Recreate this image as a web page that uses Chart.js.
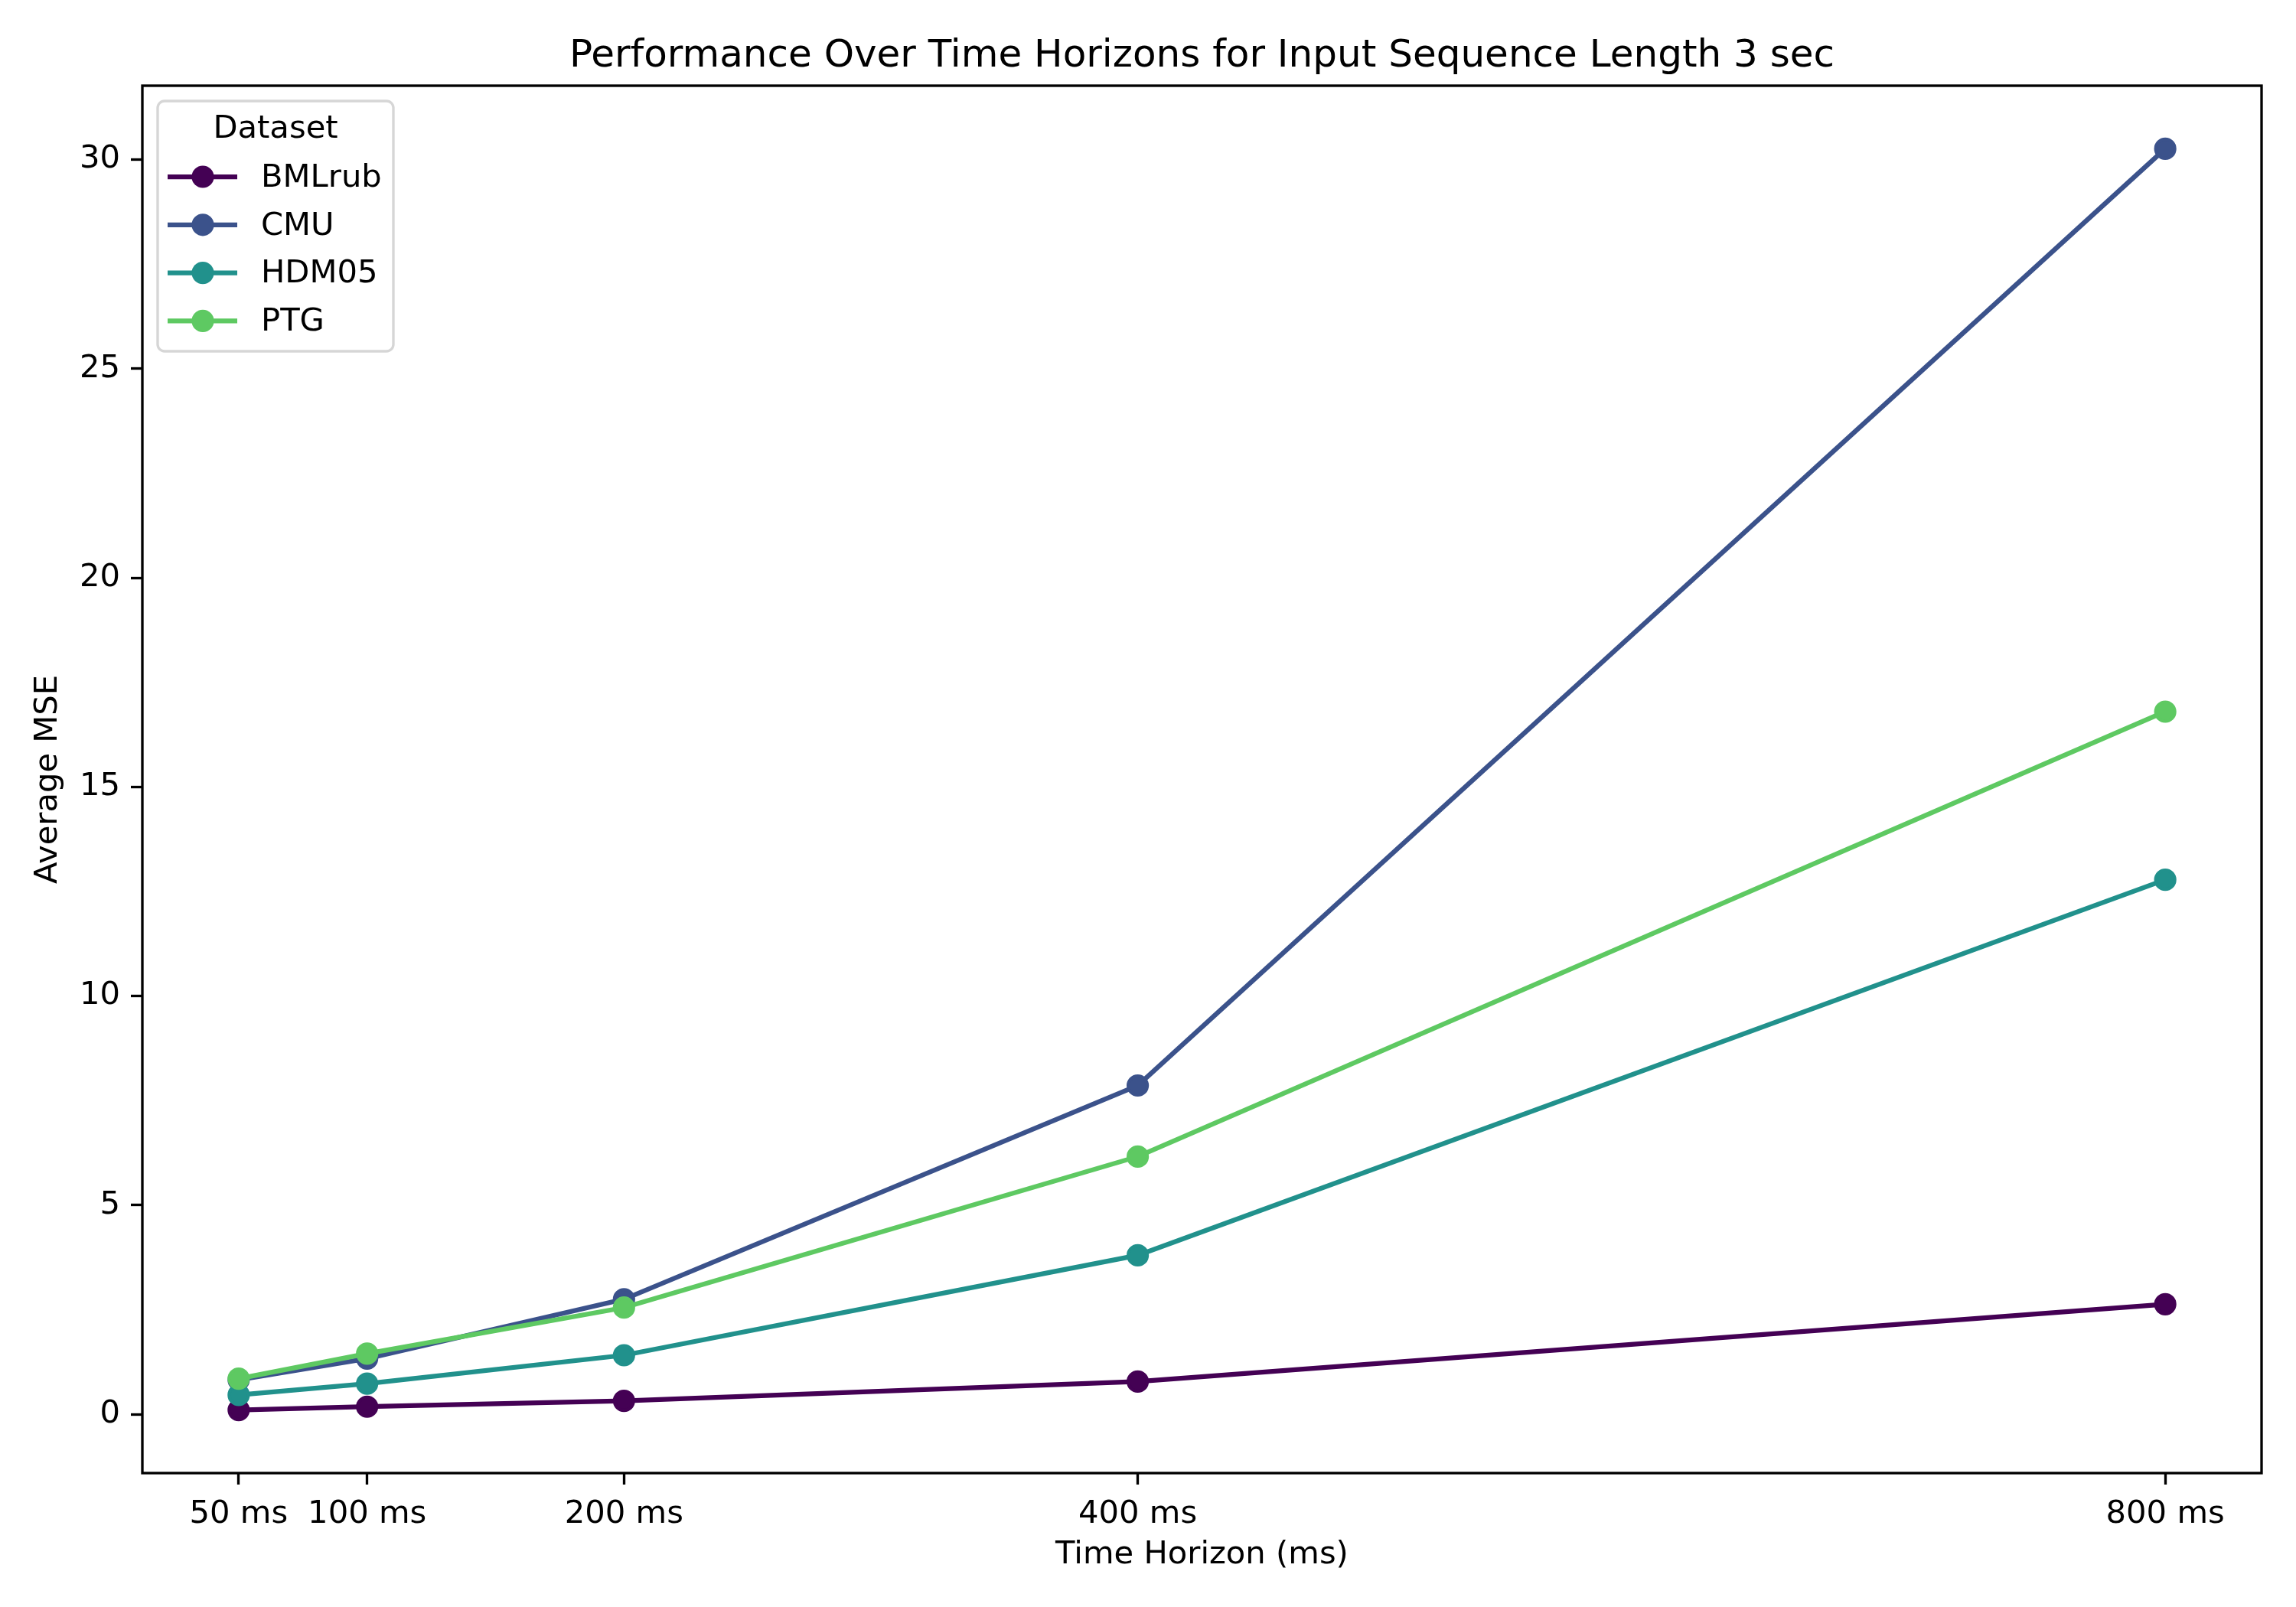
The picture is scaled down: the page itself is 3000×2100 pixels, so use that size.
<!DOCTYPE html>
<html>
<head>
<meta charset="utf-8">
<script src="https://cdn.jsdelivr.net/npm/chart.js@4/dist/chart.umd.min.js"></script>
<style>
  html, body { margin: 0; padding: 0; background: #ffffff; }
  #wrap { width: 3000px; height: 2100px; }
</style>
</head>
<body>
<div id="wrap"><canvas id="c" width="3000" height="2100"></canvas></div>
<script>
// ---- data ----
const horizonsMs = [50, 100, 200, 400, 800];
const datasetNames = ['BMLrub', 'CMU', 'HDM05', 'PTG'];
const bmlrubMse = [0.10, 0.18, 0.32, 0.78, 2.63];
const cmuMse    = [0.82, 1.33, 2.75, 7.86, 30.26];
const hdm05Mse  = [0.46, 0.73, 1.41, 3.80, 12.78];
const ptgMse    = [0.85, 1.45, 2.55, 6.16, 16.80];
const yTickValues = [0, 5, 10, 15, 20, 25, 30];
const titleText = 'Performance Over Time Horizons for Input Sequence Length 3 sec';
const xAxisTitle = 'Time Horizon (ms)';
const yAxisTitle = 'Average MSE';
const legendTitle = 'Dataset';

// ---- styling ----
const colors = ['#440154', '#3b528b', '#21918c', '#5ec962'];
const FONT = "'DejaVu Sans', sans-serif";
const fs = 41.7;
const markerR = 12.5;
const markerEdge = 4.17;

const seriesValues = [bmlrubMse, cmuMse, hdm05Mse, ptgMse];

// axis limits with matplotlib-like 5% margins, computed from the data
const xMinD = Math.min(...horizonsMs), xMaxD = Math.max(...horizonsMs);
const allY = seriesValues.flat();
const yMinD = Math.min(...allY), yMaxD = Math.max(...allY);
const xPad = (xMaxD - xMinD) * 0.05, yPad = (yMaxD - yMinD) * 0.05;

const datasets = datasetNames.map((name, i) => ({
  label: name,
  data: horizonsMs.map((h, j) => ({ x: h, y: seriesValues[i][j] })),
  borderColor: colors[i],
  backgroundColor: colors[i],
  borderWidth: 6.25,
  pointRadius: markerR,
  pointHoverRadius: markerR,
  pointBorderWidth: markerEdge,
  pointHoverBorderWidth: markerEdge,
  pointBorderColor: colors[i],
  pointBackgroundColor: colors[i],
  tension: 0,
  order: datasetNames.length - i
}));

const framePlugin = {
  id: 'frame',
  afterDatasetsDraw(chart) {
    const { ctx, chartArea: a } = chart;
    ctx.save();
    ctx.strokeStyle = '#000000';
    ctx.lineWidth = 3.33;
    ctx.strokeRect(a.left, a.top, a.right - a.left, a.bottom - a.top);
    ctx.restore();
  }
};

const titlePlugin = {
  id: 'axTitle',
  afterDraw(chart) {
    const { ctx, chartArea: a } = chart;
    ctx.save();
    ctx.fillStyle = '#000000';
    ctx.font = `50px ${FONT}`;
    ctx.textAlign = 'center';
    ctx.textBaseline = 'alphabetic';
    ctx.fillText(titleText, (a.left + a.right) / 2, a.top - 25);
    ctx.restore();
  }
};

const legendPlugin = {
  id: 'insideLegend',
  afterDraw(chart) {
    const { ctx, chartArea: a } = chart;
    const x0 = a.left + 20, y0 = a.top + 20, w = 308, h = 327;
    ctx.save();
    ctx.beginPath();
    ctx.roundRect(x0, y0, w, h, 9);
    ctx.fillStyle = 'rgba(255,255,255,0.8)';
    ctx.fill();
    ctx.strokeStyle = 'rgba(204,204,204,0.8)';
    ctx.lineWidth = 3.33;
    ctx.stroke();
    ctx.fillStyle = '#000000';
    ctx.font = `${fs}px ${FONT}`;
    ctx.textAlign = 'center';
    ctx.textBaseline = 'middle';
    ctx.fillText(legendTitle, x0 + w / 2, y0 + 37);
    chart.data.datasets.forEach((ds, i) => {
      const y = y0 + 99 + i * 62.8;
      ctx.strokeStyle = ds.borderColor;
      ctx.lineWidth = 6.25;
      ctx.beginPath();
      ctx.moveTo(x0 + 13, y);
      ctx.lineTo(x0 + 104, y);
      ctx.stroke();
      ctx.fillStyle = ds.borderColor;
      ctx.beginPath();
      ctx.arc(x0 + 59, y, markerR + markerEdge / 2, 0, Math.PI * 2);
      ctx.fill();
      ctx.fillStyle = '#000000';
      ctx.textAlign = 'left';
      ctx.fillText(ds.label, x0 + 135, y + 2);
    });
    ctx.restore();
  }
};

new Chart(document.getElementById('c'), {
  type: 'line',
  data: { datasets },
  options: {
    responsive: false,
    devicePixelRatio: 1,
    animation: false,
    layout: { padding: { top: 112, right: 45, left: 0, bottom: 0 } },
    plugins: {
      legend: { display: false },
      title: { display: false },
      tooltip: { enabled: false }
    },
    scales: {
      x: {
        type: 'linear',
        min: xMinD - xPad,
        max: xMaxD + xPad,
        afterBuildTicks: (s) => { s.ticks = horizonsMs.map(v => ({ value: v })); },
        afterFit: (s) => { s.height = 175; s.paddingLeft = 0; s.paddingRight = 0; },
        ticks: {
          autoSkip: false,
          maxRotation: 0,
          minRotation: 0,
          padding: 14,
          color: '#000000',
          font: { family: FONT, size: fs },
          callback: (v) => v + ' ms'
        },
        grid: {
          drawOnChartArea: false,
          drawTicks: true,
          tickLength: 15,
          tickWidth: 3.33,
          tickColor: '#000000'
        },
        border: { display: false },
        title: {
          display: true,
          text: xAxisTitle,
          color: '#000000',
          font: { family: FONT, size: fs },
          padding: { top: 0, bottom: 43 }
        }
      },
      y: {
        type: 'linear',
        min: yMinD - yPad,
        max: yMaxD + yPad,
        afterBuildTicks: (s) => { s.ticks = yTickValues.map(v => ({ value: v })); },
        afterFit: (s) => { s.width = 186; s.paddingTop = 0; s.paddingBottom = 0; },
        ticks: {
          padding: 14,
          color: '#000000',
          font: { family: FONT, size: fs },
          callback: (v) => String(v)
        },
        grid: {
          drawOnChartArea: false,
          drawTicks: true,
          tickLength: 15,
          tickWidth: 3.33,
          tickColor: '#000000'
        },
        border: { display: false },
        title: {
          display: true,
          text: yAxisTitle,
          color: '#000000',
          font: { family: FONT, size: fs },
          padding: { top: 38, bottom: 0 }
        }
      }
    }
  },
  plugins: [framePlugin, titlePlugin, legendPlugin]
});
</script>
</body>
</html>
